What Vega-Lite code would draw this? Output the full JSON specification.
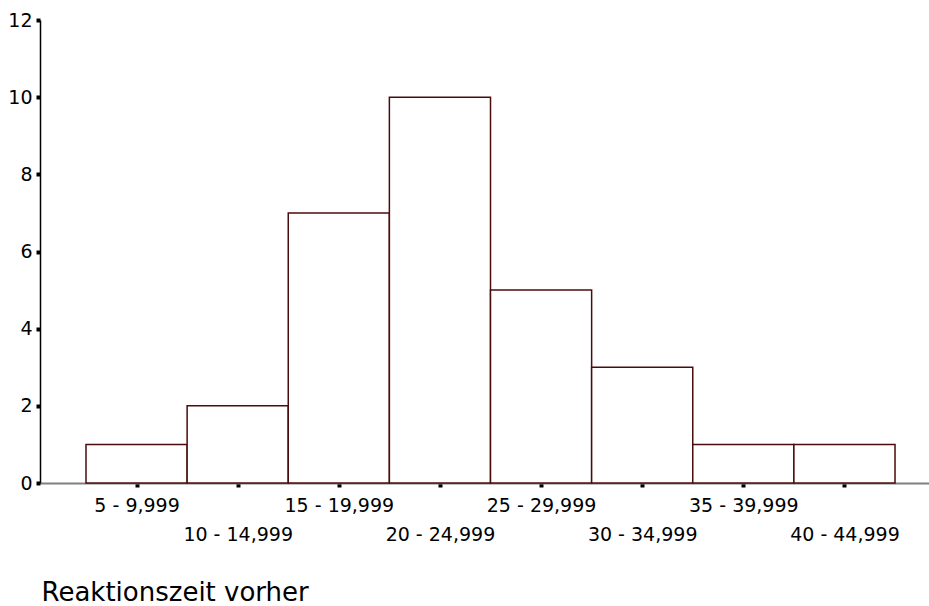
{
  "$schema": "https://vega.github.io/schema/vega-lite/v6.json",
  "width": 889,
  "height": 463,
  "autosize": {"type": "none"},
  "padding": {"left": 40, "top": 20, "right": 0, "bottom": 123},
  "background": "white",
  "config": {
    "view": {"stroke": null},
    "font": "DejaVu Sans",
    "axis": {"labelFont": "DejaVu Sans", "titleFont": "DejaVu Sans"}
  },
  "data": {
    "values": [
      {"von": 5, "bis": 10, "label": "5 - 9,999", "anzahl": 1},
      {"von": 10, "bis": 15, "label": "10 - 14,999", "anzahl": 2},
      {"von": 15, "bis": 20, "label": "15 - 19,999", "anzahl": 7},
      {"von": 20, "bis": 25, "label": "20 - 24,999", "anzahl": 10},
      {"von": 25, "bis": 30, "label": "25 - 29,999", "anzahl": 5},
      {"von": 30, "bis": 35, "label": "30 - 34,999", "anzahl": 3},
      {"von": 35, "bis": 40, "label": "35 - 39,999", "anzahl": 1},
      {"von": 40, "bis": 45, "label": "40 - 44,999", "anzahl": 1}
    ]
  },
  "mark": {"type": "rect", "fill": "white", "stroke": "#4a0c0c", "strokeWidth": 1.5},
  "encoding": {
    "x": {
      "field": "von",
      "type": "quantitative",
      "scale": {"domain": [2.726, 46.68], "nice": false, "zero": false},
      "axis": {
        "values": [7.5, 12.5, 17.5, 22.5, 27.5, 32.5, 37.5, 42.5],
        "labelExpr": "datum.value == 7.5 ? '5 - 9,999' : datum.value == 12.5 ? ['', '10 - 14,999'] : datum.value == 17.5 ? '15 - 19,999' : datum.value == 22.5 ? ['', '20 - 24,999'] : datum.value == 27.5 ? '25 - 29,999' : datum.value == 32.5 ? ['', '30 - 34,999'] : datum.value == 37.5 ? '35 - 39,999' : ['', '40 - 44,999']",
        "labelFontSize": 19,
        "labelColor": "black",
        "labelLineHeight": 29,
        "labelBaseline": "top",
        "labelPadding": 9,
        "labelOverlap": false,
        "labelFlush": false,
        "grid": false,
        "domainColor": "#808080",
        "domainWidth": 2,
        "tickColor": "black",
        "tickSize": 4,
        "tickWidth": 4,
        "tickCap": "butt",
        "title": "Reaktionszeit vorher",
        "titleFontSize": 26,
        "titleFontWeight": "normal",
        "titleColor": "black",
        "titleAnchor": "start",
        "titleAlign": "left",
        "titleBaseline": "alphabetic",
        "titleX": 1,
        "titleY": 117
      }
    },
    "x2": {"field": "bis"},
    "y": {
      "field": "anzahl",
      "type": "quantitative",
      "scale": {"domain": [0, 12], "nice": false},
      "axis": {
        "values": [0, 2, 4, 6, 8, 10, 12],
        "labelFontSize": 19,
        "labelColor": "black",
        "labelPadding": 4,
        "grid": false,
        "domainColor": "black",
        "domainWidth": 1.5,
        "tickColor": "black",
        "tickSize": 4,
        "tickWidth": 4,
        "tickCap": "butt",
        "title": null
      }
    },
    "y2": {"datum": 0}
  }
}
